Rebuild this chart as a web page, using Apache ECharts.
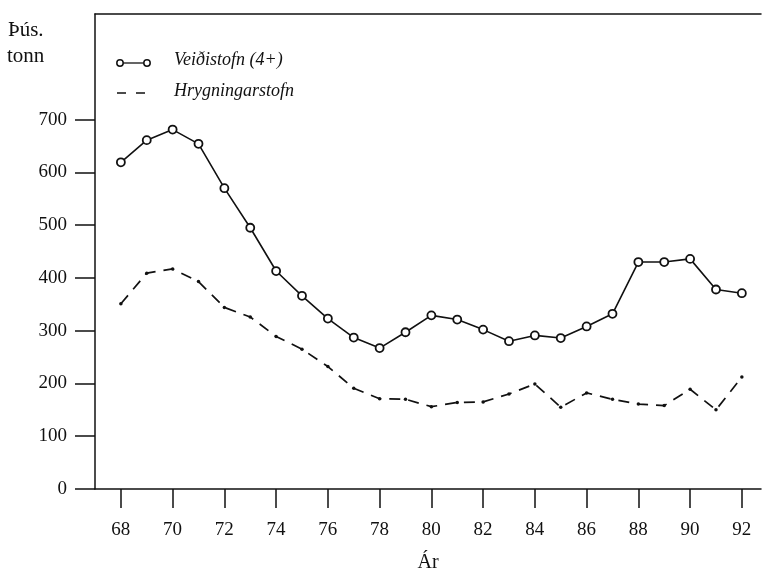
<!DOCTYPE html>
<html>
<head>
<meta charset="utf-8">
<script src="https://cdn.jsdelivr.net/npm/echarts@6/dist/echarts.min.js"></script>
<style>
  html, body { margin: 0; padding: 0; background: #fff; }
  #chart { width: 762px; height: 573px; }
</style>
</head>
<body>
<div id="chart"></div>
<script>
// ár (1968-1992)
const years = [68, 69, 70, 71, 72, 73, 74, 75, 76, 77, 78, 79, 80,
  81, 82, 83, 84, 85, 86, 87, 88, 89, 90, 91, 92]
// Veiðistofn (4+), þús. tonn
const veidistofn = [619, 661, 681, 654, 570, 495, 413, 366, 323, 287, 267, 297, 329,
  321, 302, 280, 291, 286, 308, 332, 430, 430, 436, 378, 371]
// Hrygningarstofn, þús. tonn
const hrygning = [351, 409, 417, 393, 344, 326, 289, 265, 232, 191, 171, 170, 156,
  164, 165, 180, 199, 155, 182, 170, 161, 158, 189, 150, 212]
const xTicks = [68, 70, 72, 74, 76, 78, 80, 82, 84, 86, 88, 90, 92]
const yTicks = [0, 100, 200, 300, 400, 500, 600, 700]

const font = '"Liberation Serif", "DejaVu Serif", serif'
const chart = echarts.init(document.getElementById('chart'))

const option = {
  animation: false,
  backgroundColor: '#fff',
  grid: { left: 95, right: 1, top: 14, bottom: 84, containLabel: false, outerBoundsMode: 'none' },
  xAxis: [
    {
      type: 'value',
      min: 67,
      max: 92.74,
      axisLine: { show: true, lineStyle: { color: '#111', width: 1.5 } },
      axisTick: {
        show: true,
        length: 19,
        customValues: xTicks,
        lineStyle: { color: '#111', width: 1.5 },
      },
      axisLabel: {
        customValues: xTicks,
        margin: 32,
        color: '#111',
        fontSize: 19,
        fontFamily: font,
      },
      splitLine: { show: false },
    },
    {
      // efri rammalína
      type: 'value',
      position: 'top',
      min: 67,
      max: 92.74,
      axisLine: { show: true, lineStyle: { color: '#111', width: 1.5 } },
      axisTick: { show: false },
      axisLabel: { show: false },
      splitLine: { show: false },
    },
  ],
  yAxis: {
    type: 'value',
    min: 0,
    max: 900,
    interval: 100,
    axisLine: { show: true, lineStyle: { color: '#111', width: 1.5 } },
    axisTick: {
      show: true,
      length: 20,
      customValues: yTicks,
      lineStyle: { color: '#111', width: 1.5 },
    },
    axisLabel: {
      customValues: yTicks,
      margin: 28,
      color: '#111',
      fontSize: 19,
      fontFamily: font,
    },
    splitLine: { show: false },
  },
  graphic: [
    { type: 'text', left: 8, top: 20, style: { text: 'Þús.', fill: '#111', font: '21px ' + font } },
    { type: 'text', left: 7, top: 46, style: { text: 'tonn', fill: '#111', font: '21px ' + font } },
    // ás-heiti
    { type: 'text', x: 428, y: 563, style: { text: 'Ár', fill: '#111', font: '20px ' + font, align: 'center', verticalAlign: 'middle' } },
    // skýringar
    { type: 'line', shape: { x1: 120, y1: 63, x2: 147, y2: 63 }, style: { stroke: '#111', lineWidth: 1.3 } },
    { type: 'circle', shape: { cx: 120, cy: 63, r: 3.2 }, style: { fill: '#fff', stroke: '#111', lineWidth: 1.5 } },
    { type: 'circle', shape: { cx: 147, cy: 63, r: 3.2 }, style: { fill: '#fff', stroke: '#111', lineWidth: 1.5 } },
    { type: 'text', left: 174, top: 51, style: { text: 'Veiðistofn (4+)', fill: '#111', font: 'italic 18px ' + font } },
    { type: 'line', shape: { x1: 117, y1: 93, x2: 146, y2: 93 }, style: { stroke: '#111', lineWidth: 1.6, lineDash: [9, 10] } },
    { type: 'text', left: 174, top: 82, style: { text: 'Hrygningarstofn', fill: '#111', font: 'italic 18px ' + font } },
  ],
  series: [
    {
      name: 'Veiðistofn (4+)',
      type: 'line',
      data: years.map((y, i) => [y, veidistofn[i]]),
      symbol: 'circle',
      symbolSize: 8,
      showAllSymbol: true,
      lineStyle: { color: '#111', width: 1.6 },
      itemStyle: { color: '#fff', borderColor: '#111', borderWidth: 1.8 },
      z: 3,
    },
    {
      name: 'Hrygningarstofn',
      type: 'line',
      data: years.map((y, i) => [y, hrygning[i]]),
      symbol: 'circle',
      symbolSize: 3.5,
      showAllSymbol: true,
      lineStyle: { color: '#111', width: 1.7, type: [11, 8] },
      itemStyle: { color: '#111', borderWidth: 0 },
      z: 2,
    },
  ],
}

chart.setOption(option)
</script>
</body>
</html>
